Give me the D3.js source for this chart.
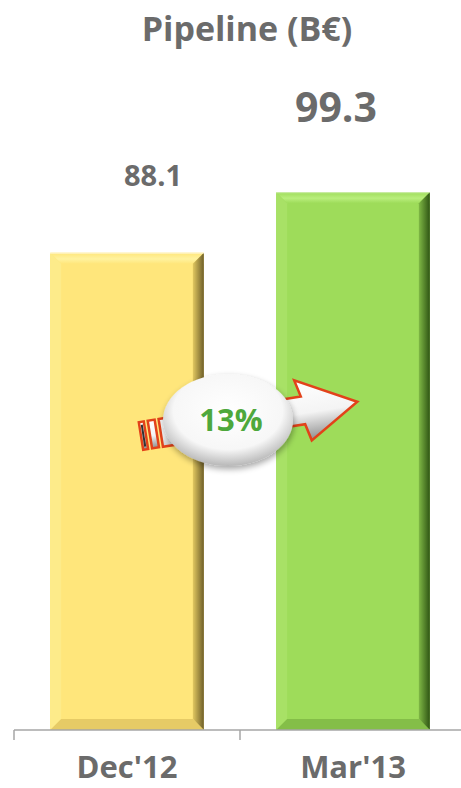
<!DOCTYPE html>
<html>
<head>
<meta charset="utf-8">
<script src="https://cdn.jsdelivr.net/npm/d3@7"></script>
<style>
  html, body { margin: 0; padding: 0; background: #fff; }
  svg { display: block; }
  text { font-family: "Open Sans", "DejaVu Sans", sans-serif; font-weight: 700; }
</style>
</head>
<body>
<svg id="chart" width="461" height="788"></svg>
<script>
// Pipeline values, billions of euros
const categories = ["Dec'12", "Mar'13"];
const values = [88.1, 99.3];
const growthLabel = ["13%"];
const title = ["Pipeline (B€)"];

const W = 461, H = 788;
const svg = d3.select("#chart");
const defs = svg.append("defs");

const x = d3.scaleBand().domain(categories).range([14, 466]).paddingInner(0.32).paddingOuter(0.16);
const y = d3.scaleLinear().domain([0, 100]).range([730, 188.4]);

// bar palettes: face, top bevel, left bevel, right bevel (dark), bottom bevel
const palettes = [
  { face: "#FFE67B", top: "#FFF29E", left: "#FDEB8A", rightA: "#E2C860", rightB: "#6E5F2A", bottom: "#E6CB66" },
  { face: "#9EDC5A", top: "#B9EE7C", left: "#A8E166", rightA: "#7FB845", rightB: "#2F5514", bottom: "#84BE48" }
];

palettes.forEach((p, i) => {
  const g = defs.append("linearGradient").attr("id", "rg" + i).attr("x1", 0).attr("x2", 1).attr("y1", 0).attr("y2", 0);
  g.append("stop").attr("offset", "0%").attr("stop-color", p.rightA);
  g.append("stop").attr("offset", "100%").attr("stop-color", p.rightB);
  const t = defs.append("linearGradient").attr("id", "tg" + i).attr("x1", 0).attr("x2", 0).attr("y1", 0).attr("y2", 1);
  t.append("stop").attr("offset", "0%").attr("stop-color", p.face);
  t.append("stop").attr("offset", "55%").attr("stop-color", p.top);
  t.append("stop").attr("offset", "100%").attr("stop-color", p.face);
});

// title
svg.append("text").attr("x", 247).attr("y", 41).attr("text-anchor", "middle")
  .attr("font-size", 34).attr("fill", "#6B6B6B").text(title[0]);

// bars with bevelled edges
const bev = 11;
const bars = svg.append("g");
categories.forEach((c, i) => {
  const x0 = x(c), x1 = x(c) + x.bandwidth();
  const y0 = y(values[i]), y1 = y(0);
  const p = palettes[i];
  const g = bars.append("g");
  g.append("rect").attr("x", x0).attr("y", y0).attr("width", x1 - x0).attr("height", y1 - y0).attr("fill", p.face);
  const poly = pts => pts.map(d => d.join(",")).join(" ");
  g.append("polygon").attr("points", poly([[x0, y0], [x1, y0], [x1 - bev, y0 + bev], [x0 + bev, y0 + bev]])).attr("fill", "url(#tg" + i + ")");
  g.append("polygon").attr("points", poly([[x0, y0], [x0 + bev, y0 + bev], [x0 + bev, y1 - bev], [x0, y1]])).attr("fill", p.left);
  g.append("polygon").attr("points", poly([[x1, y0], [x1, y1], [x1 - bev, y1 - bev], [x1 - bev, y0 + bev]])).attr("fill", "url(#rg" + i + ")");
  g.append("polygon").attr("points", poly([[x0, y1], [x0 + bev, y1 - bev], [x1 - bev, y1 - bev], [x1, y1]])).attr("fill", p.bottom);
  g.append("rect").attr("x", x0).attr("y", y0).attr("width", x1 - x0).attr("height", 1).attr("fill", "#fff").attr("opacity", 0.5);
});

// value labels
svg.append("text").attr("x", x(categories[0]) + x.bandwidth() / 2 + 26).attr("y", y(values[0]) - 67)
  .attr("text-anchor", "middle").attr("font-size", 29).attr("fill", "#6B6B6B").text(values[0].toFixed(1));
svg.append("text").attr("x", x(categories[1]) + x.bandwidth() / 2 - 17).attr("y", y(values[1]) - 70)
  .attr("text-anchor", "middle").attr("font-size", 41).attr("fill", "#6B6B6B").text(values[1].toFixed(1));

// category axis
const axis = svg.append("g").attr("transform", "translate(0,730)");
axis.append("line").attr("x1", 14).attr("x2", 461).attr("y1", 0).attr("y2", 0).attr("stroke", "#A6A6A6").attr("stroke-width", 1.5);
[14, 240].forEach(t => axis.append("line").attr("x1", t).attr("x2", t).attr("y1", 0).attr("y2", 10).attr("stroke", "#A6A6A6").attr("stroke-width", 1.5));
categories.forEach(c => {
  axis.append("text").attr("x", x(c) + x.bandwidth() / 2).attr("y", 48).attr("text-anchor", "middle")
    .attr("font-size", 31).attr("fill", "#6B6B6B").text(c);
});

// growth arrow
const ag = defs.append("linearGradient").attr("id", "arrowFill").attr("x1", 0).attr("x2", 0).attr("y1", 0).attr("y2", 1);
ag.append("stop").attr("offset", "0%").attr("stop-color", "#ffffff");
ag.append("stop").attr("offset", "55%").attr("stop-color", "#f4f4f4");
ag.append("stop").attr("offset", "100%").attr("stop-color", "#8d8d8d");
const eg = defs.append("radialGradient").attr("id", "ellFill").attr("cx", "50%").attr("cy", "40%").attr("r", "60%");
eg.append("stop").attr("offset", "0%").attr("stop-color", "#ffffff");
eg.append("stop").attr("offset", "70%").attr("stop-color", "#f7f7f7");
eg.append("stop").attr("offset", "100%").attr("stop-color", "#b8b8b8");
const sh = defs.append("filter").attr("id", "soft").attr("x", "-20%").attr("y", "-20%").attr("width", "140%").attr("height", "150%");
sh.append("feGaussianBlur").attr("in", "SourceAlpha").attr("stdDeviation", 3).attr("result", "b");
sh.append("feOffset").attr("in", "b").attr("dx", 1).attr("dy", 3).attr("result", "o");
sh.append("feComponentTransfer").attr("in", "o").attr("result", "s").append("feFuncA").attr("type", "linear").attr("slope", 0.35);
const m = sh.append("feMerge");
m.append("feMergeNode").attr("in", "s");
m.append("feMergeNode").attr("in", "SourceGraphic");

const arrow = svg.append("g").attr("transform", "translate(141,436) rotate(-9)");
const hs = 14, hh = 31, L = 219, headL = 55;
arrow.append("path")
  .attr("d", `M20,${-hs} L${L - headL},${-hs} L${L - headL - 4},${-hh} L${L},0 L${L - headL + 4},${hh} L${L - headL},${hs} L20,${hs} Z`)
  .attr("fill", "url(#arrowFill)").attr("stroke", "#E2421A").attr("stroke-width", 2.5).attr("stroke-linejoin", "miter");
[[0, 5], [9, 7]].forEach(([sx, sw]) => {
  arrow.append("rect").attr("x", sx).attr("y", -hs).attr("width", sw).attr("height", hs * 2)
    .attr("fill", "url(#arrowFill)").attr("stroke", "#E2421A").attr("stroke-width", 2.5);
});
arrow.append("rect").attr("x", 1.5).attr("y", -hs + 3).attr("width", 2).attr("height", hs * 2 - 6).attr("fill", "#333");

svg.append("ellipse").attr("cx", 228).attr("cy", 420).attr("rx", 65).attr("ry", 46)
  .attr("fill", "url(#ellFill)").attr("filter", "url(#soft)");
svg.append("text").attr("x", 231).attr("y", 431).attr("text-anchor", "middle")
  .attr("font-size", 31).attr("fill", "#4EA83C").text(growthLabel[0]);
</script>
</body>
</html>
